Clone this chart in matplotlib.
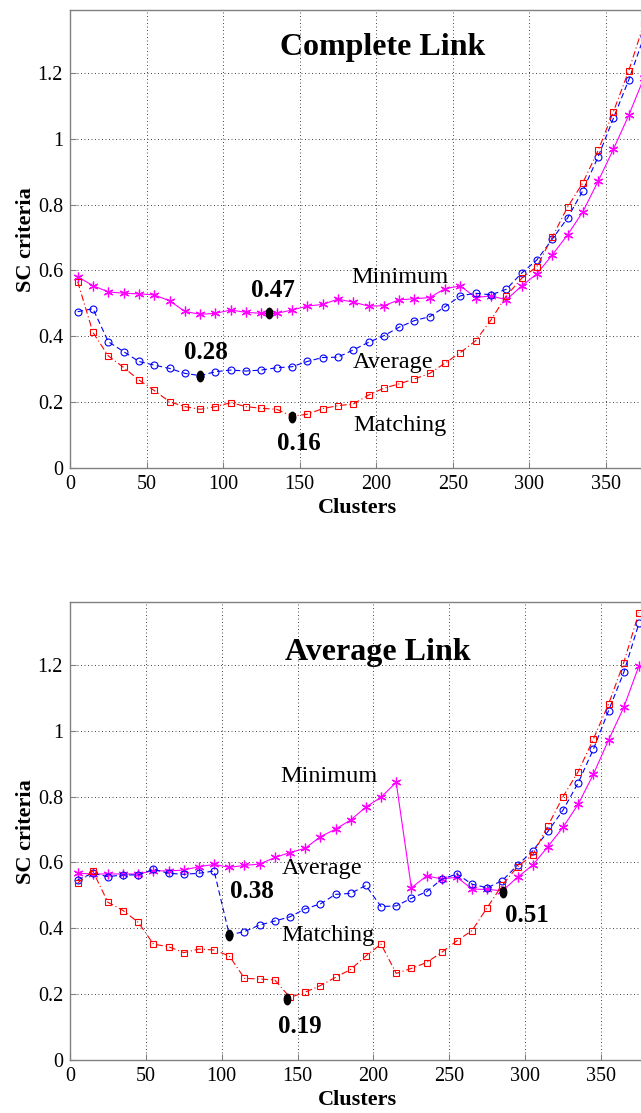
import matplotlib
matplotlib.use("Agg")
import matplotlib.pyplot as plt
import numpy as np
from matplotlib.path import Path
from matplotlib.transforms import Affine2D

# ---------------- data ----------------
clusters = [5, 15, 25, 35, 45, 55, 65, 75, 85, 95, 105, 115, 125, 135, 145, 155, 165,
            175, 185, 195, 205, 215, 225, 235, 245, 255, 265, 275, 285, 295, 305, 315,
            325, 335, 345, 355, 365, 375]

# Complete link
cl_minimum = [0.581, 0.554, 0.535, 0.531, 0.529, 0.526, 0.508, 0.476, 0.467, 0.470, 0.480,
              0.473, 0.470, 0.470, 0.480, 0.492, 0.497, 0.513, 0.504, 0.492, 0.493, 0.511,
              0.514, 0.518, 0.545, 0.553, 0.518, 0.523, 0.511, 0.553, 0.590, 0.647, 0.708,
              0.778, 0.871, 0.968, 1.071, 1.185]
cl_average = [0.475, 0.484, 0.384, 0.354, 0.324, 0.313, 0.303, 0.288, 0.281, 0.293, 0.298,
              0.295, 0.298, 0.305, 0.308, 0.324, 0.336, 0.337, 0.359, 0.382, 0.402, 0.428,
              0.448, 0.460, 0.490, 0.523, 0.531, 0.526, 0.543, 0.592, 0.632, 0.695, 0.759,
              0.842, 0.945, 1.062, 1.178, 1.31]
cl_matching = [0.566, 0.412, 0.341, 0.306, 0.268, 0.236, 0.202, 0.187, 0.179, 0.187, 0.199,
               0.187, 0.182, 0.179, 0.158, 0.164, 0.181, 0.190, 0.195, 0.222, 0.243, 0.256,
               0.271, 0.288, 0.319, 0.351, 0.387, 0.450, 0.523, 0.576, 0.612, 0.701, 0.792,
               0.866, 0.964, 1.082, 1.206, 1.35]
cl_best_x = [85, 130, 145]
cl_best_y = [0.28, 0.47, 0.157]
cl_best_labels = ["0.28", "0.47", "0.16"]

# Average link
al_minimum = [0.567, 0.565, 0.565, 0.565, 0.565, 0.575, 0.574, 0.577, 0.587, 0.594, 0.585,
              0.591, 0.595, 0.615, 0.630, 0.643, 0.678, 0.701, 0.729, 0.768, 0.798, 0.843,
              0.523, 0.559, 0.550, 0.555, 0.519, 0.518, 0.514, 0.555, 0.592, 0.648, 0.707,
              0.777, 0.868, 0.972, 1.071, 1.197]
al_average = [0.547, 0.567, 0.557, 0.562, 0.562, 0.579, 0.567, 0.564, 0.567, 0.574, 0.380,
              0.390, 0.410, 0.422, 0.435, 0.459, 0.474, 0.503, 0.506, 0.530, 0.466, 0.468,
              0.491, 0.511, 0.549, 0.565, 0.534, 0.523, 0.545, 0.592, 0.635, 0.694, 0.759,
              0.842, 0.944, 1.061, 1.177, 1.326]
al_matching = [0.537, 0.574, 0.479, 0.454, 0.418, 0.352, 0.344, 0.326, 0.337, 0.334, 0.316,
               0.248, 0.246, 0.243, 0.190, 0.206, 0.226, 0.251, 0.275, 0.316, 0.352, 0.263,
               0.278, 0.296, 0.327, 0.362, 0.393, 0.463, 0.532, 0.587, 0.623, 0.711, 0.800,
               0.876, 0.975, 1.081, 1.207, 1.359]
al_best_x = [105, 143, 285.5]
al_best_y = [0.380, 0.184, 0.511]
al_best_labels = ["0.38", "0.19", "0.51"]

yticks = [0, 0.2, 0.4, 0.6, 0.8, 1.0, 1.2]
ytick_labels = ["0", "0.2", "0.4", "0.6", "0.8", "1", "1.2"]
xticks = [0, 50, 100, 150, 200, 250, 300, 350]

# ---------------- style ----------------
plt.rcParams['font.family'] = ['Liberation Serif', 'DejaVu Serif']
W, H = 641, 1113
fig = plt.figure(figsize=(W / 100, H / 100), dpi=100)

ellipse = Path.unit_circle().transformed(Affine2D().scale(0.62, 1.0))
GRAY = '#808080'


def make_axes(rect_px, xmax):
    left, top, right, bottom = rect_px
    ax = fig.add_axes([left / W, 1 - bottom / H, (right - left) / W, (bottom - top) / H])
    ax.set_xlim(0, xmax)
    ax.set_ylim(0, 1.39)
    ax.set_xticks(xticks)
    ax.set_yticks(yticks)
    ax.set_yticklabels(ytick_labels)
    ax.tick_params(direction='in', length=4, width=0.8, color=GRAY,
                   labelsize=14.5, pad=5, top=False, right=False)
    for s in ax.spines.values():
        s.set_color(GRAY)
        s.set_linewidth(1.0)
    ax.grid(True, color='#444444', linestyle=(0, (1, 2.6)), linewidth=0.7)
    ax.set_axisbelow(True)
    ax.set_xlabel('Clusters', fontsize=16, fontweight='bold', labelpad=3)
    ax.set_ylabel('SC criteria', fontsize=16, fontweight='bold', labelpad=1)
    return ax


def draw(ax, mn, av, mt, bx, by):
    ax.plot(clusters, mn, color='#ff00ff', linestyle='-', linewidth=0.8,
            marker=(6, 2, 0), markersize=7, markeredgewidth=0.9, zorder=3)
    ax.plot(clusters, av, color='#0000ff', linestyle=(0, (5, 3)), linewidth=0.8,
            marker='o', markersize=5, markerfacecolor='none', markeredgewidth=0.8, zorder=3)
    ax.plot(clusters, mt, color='#ff0000', linestyle=(0, (6, 2.5, 1, 2.5)), linewidth=0.8,
            marker='s', markersize=5, markerfacecolor='none', markeredgewidth=0.8, zorder=3)
    ax.plot(bx, by, linestyle='none', marker=ellipse, markersize=7.5,
            color='black', zorder=5)


LBL = 17.5
NUM = 18

# ---- top: Complete Link ----
ax1 = make_axes((70, 10, 645, 468.3), 375.6)
draw(ax1, cl_minimum, cl_average, cl_matching, cl_best_x, cl_best_y)
ax1.text(204, 1.254, 'Complete Link', fontsize=23, fontweight='bold', ha='center', va='baseline')
for tx, ty, lab in zip([88.5, 132.5, 149.4], [0.331, 0.521, 0.056], cl_best_labels):
    ax1.text(tx, ty, lab, fontsize=NUM, fontweight='bold', ha='center', va='baseline')
ax1.text(215.7, 0.561, 'Minimum', fontsize=LBL, ha='center', va='baseline')
ax1.text(211.3, 0.303, 'Average', fontsize=LBL, ha='center', va='baseline')
ax1.text(215.3, 0.113, 'Matching', fontsize=LBL, ha='center', va='baseline')

# ---- bottom: Average Link ----
ax2 = make_axes((70, 602.3, 645, 1060), 379)
draw(ax2, al_minimum, al_average, al_matching, al_best_x, al_best_y)
ax2.text(203, 1.215, 'Average Link', fontsize=23, fontweight='bold', ha='center', va='baseline')
for tx, ty, lab in zip([119.8, 151.2, 301], [0.491, 0.081, 0.420], al_best_labels):
    ax2.text(tx, ty, lab, fontsize=NUM, fontweight='bold', ha='center', va='baseline')
ax2.text(170.9, 0.845, 'Minimum', fontsize=LBL, ha='center', va='baseline')
ax2.text(166, 0.565, 'Average', fontsize=LBL, ha='center', va='baseline')
ax2.text(170, 0.362, 'Matching', fontsize=LBL, ha='center', va='baseline')

fig.savefig('out.png', dpi=100)
